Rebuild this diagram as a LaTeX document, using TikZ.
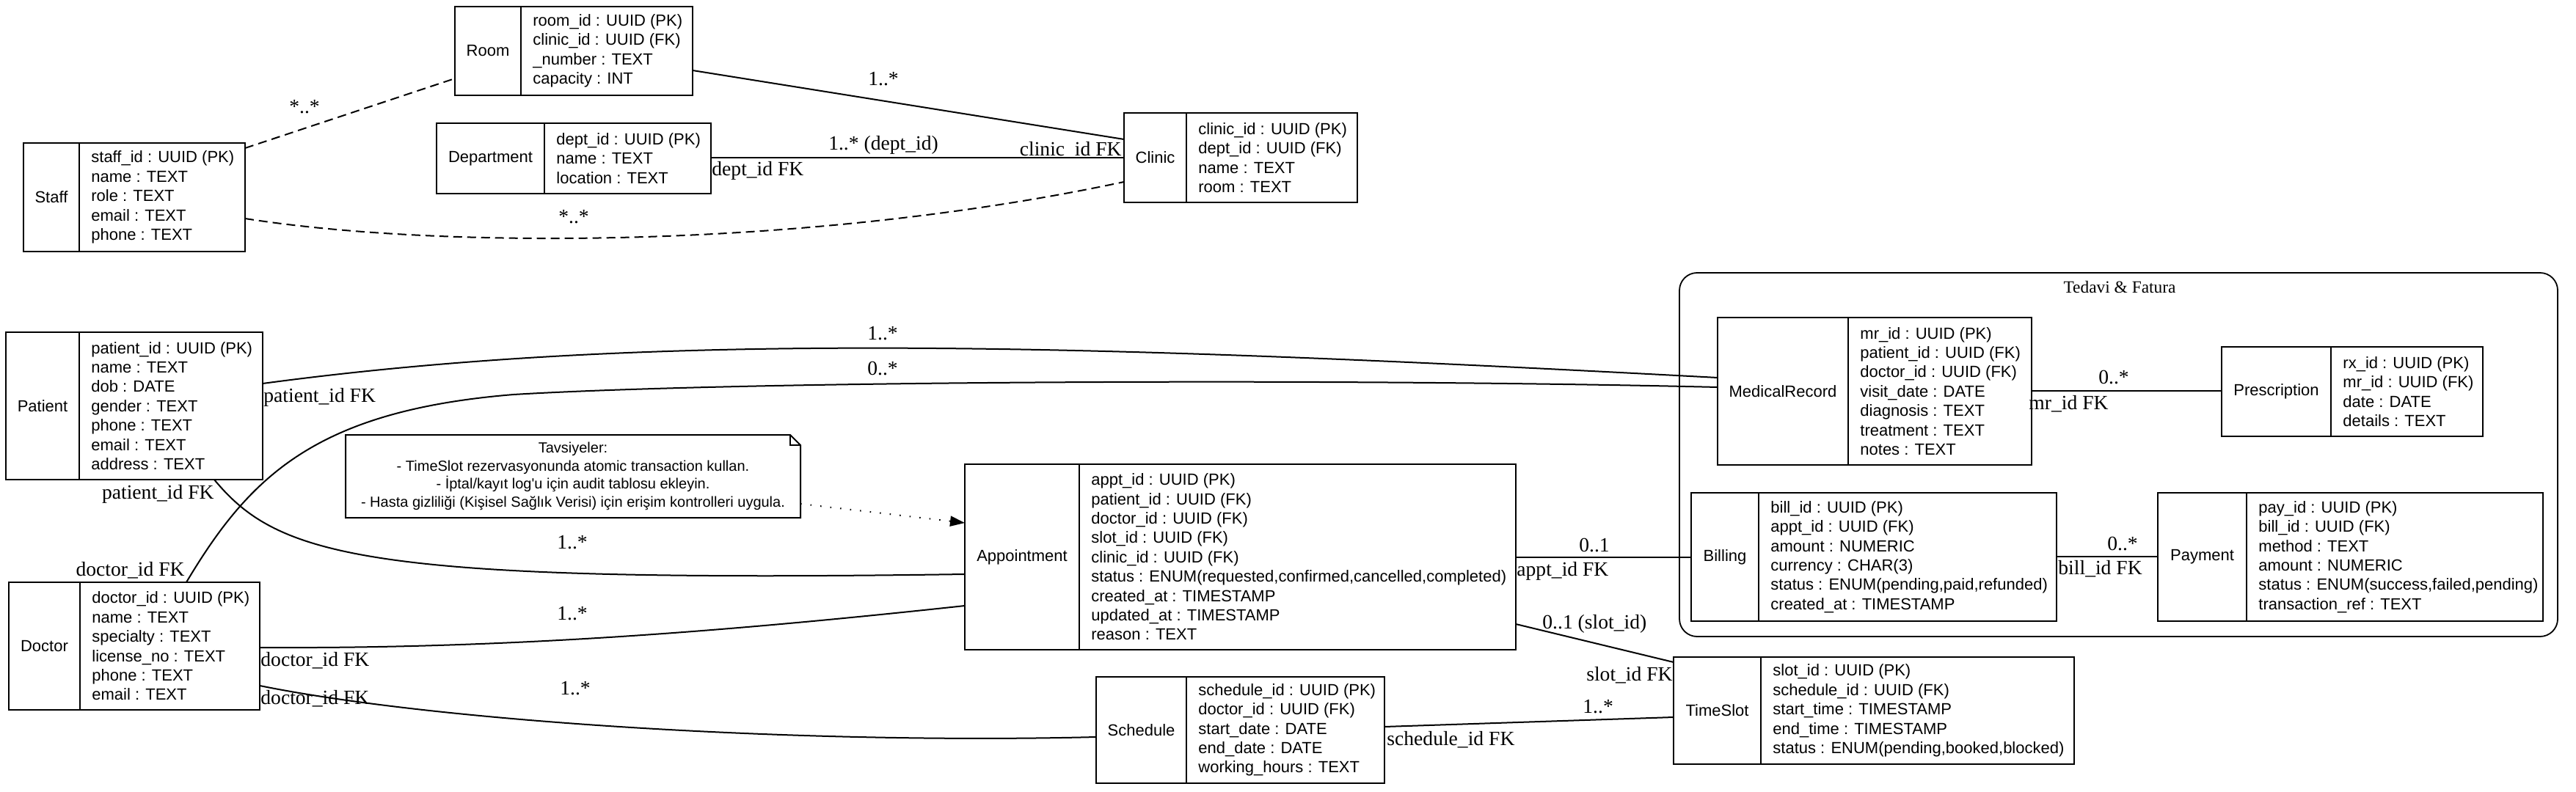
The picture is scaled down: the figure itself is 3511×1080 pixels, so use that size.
\documentclass[tikz,border=0pt]{standalone}
\usepackage{fontspec}
\newfontfamily\sansf{Liberation Sans}
\newfontfamily\seriff{Liberation Serif}
\usetikzlibrary{calc,arrows.meta}

\tikzset{
  ent/.style={draw, line width=1.2pt, inner sep=0, outer sep=0, anchor=north west},
  div/.style={line width=0.9pt},
  ename/.style={font=\sansf\fontsize{11}{13.2}\selectfont, inner sep=0},
  fields/.style={font=\sansf\fontsize{11}{13.2}\selectfont, align=left, inner sep=0, anchor=west},
  rel/.style={line width=1pt},
  dashrel/.style={line width=1pt, dash pattern=on 6pt off 3.5pt},
  dotrel/.style={line width=1pt, dash pattern=on 0.8pt off 6pt, -{Triangle[length=10pt,width=7pt]}},
  lbl/.style={font=\seriff\fontsize{13.8}{16}\selectfont, inner sep=0},
}

\newcommand\erent[8]{%
  \node[ent, minimum width={(#4-#2)*0.5pt}, minimum height={(#5-#3)*0.5pt}] (#1) at (#2,#3) {};
  \draw[div] (#6,#3) -- (#6,#5);
  \node[ename] (#1-name) at ({(#2+#6)/2},{(#3+#5)/2}) {#7};
  \node[fields] (#1-fields) at ({#6+16},{(#3+#5)/2}) {#8};
}

\begin{document}
\begin{tikzpicture}[x=0.5pt,y=-0.5pt]
\useasboundingbox (0,0) rectangle (3511,1080);

% group
\node[draw, line width=0.9pt, rounded corners=12pt, inner sep=0, outer sep=0, anchor=north west,
      minimum width={(3486-2289)*0.5pt}, minimum height={(868-372)*0.5pt}] (group) at (2289,372) {};
\node[font=\seriff\fontsize{11.7}{14}\selectfont, inner sep=0, anchor=base] (grouptitle) at (2889,400) {Tedavi \& Fatura};

% entities
\erent{room}{620}{9}{944}{130}{710}{Room}{room\_id : UUID (PK)\\clinic\_id : UUID (FK)\\\_number : TEXT\\capacity : INT}
\erent{staff}{32}{195}{334}{343}{108}{Staff}{staff\_id : UUID (PK)\\name : TEXT\\role : TEXT\\email : TEXT\\phone : TEXT}
\erent{department}{595}{168}{969}{264}{742}{Department}{dept\_id : UUID (PK)\\name : TEXT\\location : TEXT}
\erent{clinic}{1532}{154}{1850}{276}{1617}{Clinic}{clinic\_id : UUID (PK)\\dept\_id : UUID (FK)\\name : TEXT\\room : TEXT}
\erent{patient}{8}{453}{358}{654}{108}{Patient}{patient\_id : UUID (PK)\\name : TEXT\\dob : DATE\\gender : TEXT\\phone : TEXT\\email : TEXT\\address : TEXT}
\erent{doctor}{12}{794}{354}{968}{109}{Doctor}{doctor\_id : UUID (PK)\\name : TEXT\\specialty : TEXT\\license\_no : TEXT\\phone : TEXT\\email : TEXT}
\erent{appt}{1315}{633}{2066}{886}{1471}{Appointment}{appt\_id : UUID (PK)\\patient\_id : UUID (FK)\\doctor\_id : UUID (FK)\\slot\_id : UUID (FK)\\clinic\_id : UUID (FK)\\status : ENUM(requested,confirmed,cancelled,completed)\\created\_at : TIMESTAMP\\updated\_at : TIMESTAMP\\reason : TEXT}
\erent{schedule}{1494}{923}{1887}{1068}{1617}{Schedule}{schedule\_id : UUID (PK)\\doctor\_id : UUID (FK)\\start\_date : DATE\\end\_date : DATE\\working\_hours : TEXT}
\erent{timeslot}{2281}{896}{2827}{1042}{2400}{TimeSlot}{slot\_id : UUID (PK)\\schedule\_id : UUID (FK)\\start\_time : TIMESTAMP\\end\_time : TIMESTAMP\\status : ENUM(pending,booked,blocked)}
\erent{medrec}{2341}{433}{2769}{634}{2519}{MedicalRecord}{mr\_id : UUID (PK)\\patient\_id : UUID (FK)\\doctor\_id : UUID (FK)\\visit\_date : DATE\\diagnosis : TEXT\\treatment : TEXT\\notes : TEXT}
\erent{rx}{3028}{473}{3384}{595}{3177}{Prescription}{rx\_id : UUID (PK)\\mr\_id : UUID (FK)\\date : DATE\\details : TEXT}
\erent{billing}{2305}{672}{2803}{847}{2397}{Billing}{bill\_id : UUID (PK)\\appt\_id : UUID (FK)\\amount : NUMERIC\\currency : CHAR(3)\\status : ENUM(pending,paid,refunded)\\created\_at : TIMESTAMP}
\erent{payment}{2941}{672}{3466}{847}{3062}{Payment}{pay\_id : UUID (PK)\\bill\_id : UUID (FK)\\method : TEXT\\amount : NUMERIC\\status : ENUM(success,failed,pending)\\transaction\_ref : TEXT}

% note
\node[inner sep=0, outer sep=0, anchor=north west, minimum width={620*0.5pt}, minimum height={113*0.5pt}] (note) at (471,593) {};
\draw[line width=1pt] (note.north west) -- ($(note.north east)+(-14,0)$) -- ($(note.north east)+(0,14)$) -- (note.south east) -- (note.south west) -- cycle;
\draw[line width=0.6pt] ($(note.north east)+(-14,0)$) -- ($(note.north east)+(-14,14)$) -- ($(note.north east)+(0,14)$);
\node[font=\sansf\fontsize{10}{12.3}\selectfont, align=center, inner sep=0] (notetext) at (note.center)
  {Tavsiyeler:\\- TimeSlot rezervasyonunda atomic transaction kullan.\\- İptal/kayıt log'u için audit tablosu ekleyin.\\- Hasta gizliliği (Kişisel Sağlık Verisi) için erişim kontrolleri uygula.};

% connectors
\draw[rel] ($(room.north east)+(0,87)$) -- ($(clinic.north west)+(0,36)$);
\draw[rel] ($(department.north east)+(0,47)$) -- ($(clinic.north west)+(0,61)$);
\draw[dashrel] ($(staff.north east)+(0,7)$) -- ($(room.north west)+(0,98)$);
\draw[dashrel] ($(staff.north east)+(0,103)$) .. controls (600,340) and (1100,340) .. ($(clinic.north west)+(0,94)$);
\draw[rel] ($(patient.north east)+(0,70)$) .. controls (900,450) and (1500,470) .. ($(medrec.north west)+(0,82)$);
\coordinate (dmbend) at (700,538);
\draw[rel] ($(doctor.north west)+(242,0)$) .. controls (340,650) and (430,560) .. (dmbend) .. controls (1000,520) and (1800,515) .. ($(medrec.north west)+(0,95)$);
\draw[rel] ($(patient.south west)+(284,0)$) .. controls (380,760) and (500,795) .. ($(appt.north west)+(0,150)$);
\draw[rel] ($(doctor.north east)+(0,89)$) .. controls (700,885) and (1000,860) .. ($(appt.north west)+(0,193)$);
\draw[rel] ($(doctor.north east)+(0,141)$) .. controls (600,985) and (1100,1015) .. ($(schedule.north west)+(0,82)$);
\draw[rel] ($(appt.north east)+(0,127)$) -- ($(billing.north west)+(0,88)$);
\draw[rel] ($(appt.north east)+(0,218)$) -- ($(timeslot.north west)+(0,7)$);
\draw[rel] ($(schedule.north east)+(0,68)$) -- ($(timeslot.north west)+(0,82)$);
\draw[rel] ($(medrec.north east)+(0,100)$) -- ($(rx.north west)+(0,60)$);
\draw[rel] ($(billing.north east)+(0,87)$) -- ($(payment.north west)+(0,87)$);
\draw[dotrel] ($(note.north east)+(0,94)$) -- ($(appt.north west)+(0,80)$);

% labels
\node[lbl, anchor=base] (l1) at (1204,117) {1..*};
\node[lbl, anchor=base] (l2) at (1204,205) {1..* (dept\_id)};
\node[lbl, anchor=base west] (l3) at (970,240) {dept\_id FK};
\node[lbl, anchor=base east] (l4) at (1529,213) {clinic\_id FK};
\node[lbl, anchor=base] (l5) at (415,155) {*..*};
\node[lbl, anchor=base] (l6) at (782,305) {*..*};
\node[lbl, anchor=base] (l7) at (1203,463) {1..*};
\node[lbl, anchor=base] (l8) at (1203,511) {0..*};
\node[lbl, anchor=base west] (l9) at (359,548) {patient\_id FK};
\node[lbl, anchor=base east] (l10) at (292,680) {patient\_id FK};
\node[lbl, anchor=base east] (l11) at (252,785) {doctor\_id FK};
\node[lbl, anchor=base] (l12) at (780,748) {1..*};
\node[lbl, anchor=base] (l13) at (780,845) {1..*};
\node[lbl, anchor=base west] (l14) at (355,908) {doctor\_id FK};
\node[lbl, anchor=base west] (l15) at (355,960) {doctor\_id FK};
\node[lbl, anchor=base] (l16) at (784,947) {1..*};
\node[lbl, anchor=base] (l17) at (2173,752) {0..1};
\node[lbl, anchor=base west] (l18) at (2067,785) {appt\_id FK};
\node[lbl, anchor=base west] (l19) at (2102,857) {0..1 (slot\_id)};
\node[lbl, anchor=base east] (l20) at (2280,928) {slot\_id FK};
\node[lbl, anchor=base west] (l21) at (2157,972) {1..*};
\node[lbl, anchor=base west] (l22) at (1890,1016) {schedule\_id FK};
\node[lbl, anchor=base] (l23) at (2881,523) {0..*};
\node[lbl, anchor=base west] (l24) at (2765,558) {mr\_id FK};
\node[lbl, anchor=base] (l25) at (2893,750) {0..*};
\node[lbl, anchor=base west] (l26) at (2805,783) {bill\_id FK};
\end{tikzpicture}
\end{document}
